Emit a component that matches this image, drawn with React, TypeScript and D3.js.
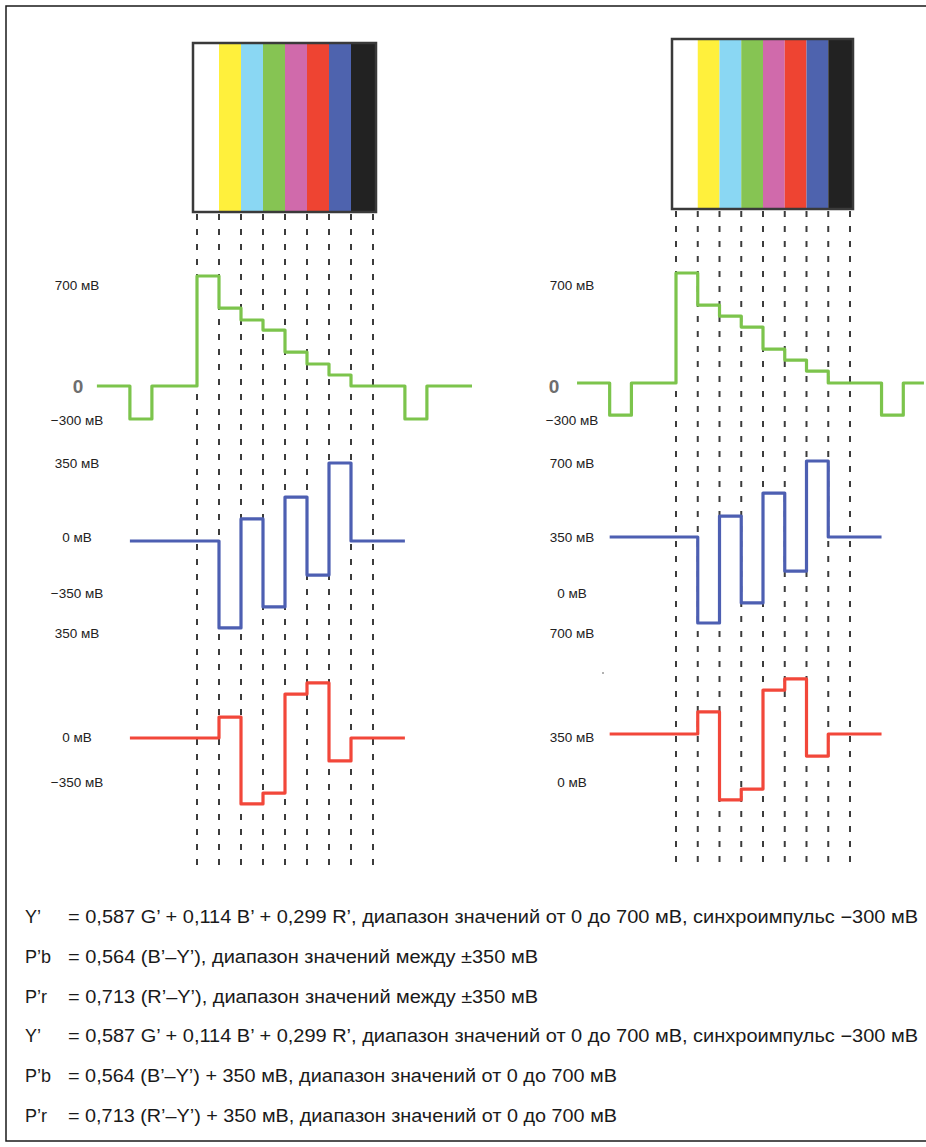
import React from "react";
import * as d3 from "d3";

// ---------- data ----------
const CATEGORIES = ["Белый", "Жёлтый", "Голубой", "Зелёный", "Пурпурный", "Красный", "Синий", "Чёрный"];
const BAR_COLORS = ["#ffffff", "#fff03c", "#8ad7f3", "#86c453", "#d06aab", "#ee4432", "#4e63ae", "#222222"];

// Y' levels per colour bar (mV, as drawn)
const Y_LEFT = [700, 496, 420, 356, 216, 140, 70, 0];
const Y_RIGHT = [700, 496, 426, 356, 216, 146, 76, 0];
const SYNC_LEFT = -210;
const SYNC_RIGHT = -205;

// colour-difference levels per bar (mV, as drawn)
const PB_LEFT = [0, -390, 99, -296, 197, -153, 350, 0];
const PR_LEFT = [0, 94, -296, -247, 197, 247, -103, 0];
const PB_RIGHT = [350, -36, 444, 54, 547, 197, 691, 350];
const PR_RIGHT = [350, 449, 54, 103, 547, 597, 251, 350];

// time positions (in bar widths) of the blanking/sync parts
const Y_START = -4.55;
const SYNC_ON = -3.05;
const SYNC_OFF = -2.05;
const SYNC2_ON = 9.45;
const SYNC2_OFF = 10.45;
const Y_END_LEFT = 12.5;
const Y_END_RIGHT = 11.4;
const C_START = -3.05;
const C_END = 9.45;

const LABELS_LEFT = ["700 мВ", "0", "−300 мВ", "350 мВ", "0 мВ", "−350 мВ", "350 мВ", "0 мВ", "−350 мВ"];
const LABELS_RIGHT = ["700 мВ", "0", "−300 мВ", "700 мВ", "350 мВ", "0 мВ", "700 мВ", "350 мВ", "0 мВ"];

const FORMULA_PREFIX = ["Y’", "P’b", "P’r", "Y’", "P’b", "P’r"];
const FORMULA_BODY = [
  "= 0,587 G’ + 0,114 B’ + 0,299 R’, диапазон значений от 0 до 700 мВ, синхроимпульс −300 мВ",
  "= 0,564 (B’–Y’), диапазон значений между ±350 мВ",
  "= 0,713 (R’–Y’), диапазон значений между ±350 мВ",
  "= 0,587 G’ + 0,114 B’ + 0,299 R’, диапазон значений от 0 до 700 мВ, синхроимпульс −300 мВ",
  "= 0,564 (B’–Y’) + 350 мВ, диапазон значений от 0 до 700 мВ",
  "= 0,713 (R’–Y’) + 350 мВ, диапазон значений от 0 до 700 мВ",
];

// ---------- layout ----------
const W = 926;
const H = 1147;
const LABEL_Y = [285, 386, 420, 463, 537, 593, 633, 737, 782];
const FORMULA_Y = [917, 957, 997, 1036, 1076, 1116];
const FORMULA_LEN = [850, 470, 470, 850, 549, 549];
const FONT = "'Liberation Sans Narrow', 'Liberation Sans', Arial, sans-serif";

const PANELS = [
  {
    x: d3.scaleLinear().domain([0, 8]).range([197, 373]),
    box: [43, 212],
    dash: [214, 870],
    labelX: 77,
    zeroX: 78,
    labels: LABELS_LEFT,
    yY: d3.scaleLinear().domain([0, 700]).range([386, 276]),
    yPb: d3.scaleLinear().domain([0, 350]).range([541, 463]),
    yPr: d3.scaleLinear().domain([0, 350]).range([738, 660]),
    Y: Y_LEFT, sync: SYNC_LEFT, yEnd: Y_END_LEFT,
    Pb: PB_LEFT, Pr: PR_LEFT, base: 0,
  },
  {
    x: d3.scaleLinear().domain([0, 8]).range([676, 850]),
    box: [39, 209],
    dash: [211, 862],
    labelX: 572,
    zeroX: 554,
    labels: LABELS_RIGHT,
    yY: d3.scaleLinear().domain([0, 700]).range([383, 273]),
    yPb: d3.scaleLinear().domain([350, 700]).range([537, 459]),
    yPr: d3.scaleLinear().domain([350, 700]).range([734, 656]),
    Y: Y_RIGHT, sync: SYNC_RIGHT, yEnd: Y_END_RIGHT,
    Pb: PB_RIGHT, Pr: PR_RIGHT, base: 350,
  },
];

type Pt = [number, number];

function lumaPoints(levels: number[], sync: number, end: number): Pt[] {
  const pts: Pt[] = [[Y_START, 0], [SYNC_ON, sync], [SYNC_OFF, 0]];
  levels.forEach((v, i) => pts.push([i, v]));
  pts.push([SYNC2_ON, sync], [SYNC2_OFF, 0], [end, 0]);
  return pts;
}

function chromaPoints(levels: number[], base: number): Pt[] {
  const pts: Pt[] = [[C_START, base]];
  levels.forEach((v, i) => pts.push([i, v]));
  pts.push([C_END, levels[levels.length - 1]]);
  return pts;
}

function Panel({ p }: { p: (typeof PANELS)[number] }) {
  const x = p.x;
  const mk = (y: d3.ScaleLinear<number, number>) =>
    d3.line<Pt>().x((d) => x(d[0])).y((d) => y(d[1])).curve(d3.curveStepAfter);
  const boxL = x(0) - 4;
  const boxR = x(8) + 3;
  const ticks = d3.range(0, 9);
  return (
    <g>
      {/* colour bars */}
      {CATEGORIES.map((c, i) => {
        const x0 = i === 0 ? boxL : x(i);
        const x1 = i === CATEGORIES.length - 1 ? boxR : x(i + 1);
        return <rect key={c} x={x0} y={p.box[0]} width={x1 - x0} height={p.box[1] - p.box[0]} fill={BAR_COLORS[i]} />;
      })}
      <rect x={boxL} y={p.box[0]} width={boxR - boxL} height={p.box[1] - p.box[0]} fill="none" stroke="#3a3a3a" strokeWidth={2.5} />
      {/* dashed guides */}
      {ticks.map((t) => (
        <line key={t} x1={x(t)} x2={x(t)} y1={p.dash[0]} y2={p.dash[1]} stroke="#3c3c3c" strokeWidth={2} strokeDasharray="6,9" />
      ))}
      {/* waveforms */}
      <path d={mk(p.yY)(lumaPoints(p.Y, p.sync, p.yEnd)) || ""} fill="none" stroke="#7cc44c" strokeWidth={3.2} strokeLinejoin="round" />
      <path d={mk(p.yPb)(chromaPoints(p.Pb, p.base)) || ""} fill="none" stroke="#4d5fb2" strokeWidth={3.2} strokeLinejoin="round" />
      <path d={mk(p.yPr)(chromaPoints(p.Pr, p.base)) || ""} fill="none" stroke="#f2473a" strokeWidth={3.2} strokeLinejoin="round" />
      {/* labels */}
      {p.labels.map((t, i) =>
        t === "0" ? (
          <text key={i} x={p.zeroX} y={LABEL_Y[i]} dy="0.35em" textAnchor="middle" fontFamily={FONT} fontWeight="bold" fontSize={19} fill="#6e6e6e">
            {t}
          </text>
        ) : (
          <text key={i} x={p.labelX} y={LABEL_Y[i]} dy="0.35em" textAnchor="middle" fontFamily={FONT} fontSize={13.5} fill="#222">
            {t}
          </text>
        )
      )}
    </g>
  );
}

export default function App() {
  return (
    <svg width={W} height={H} viewBox={`0 0 ${W} ${H}`} style={{ position: "absolute", left: 0, top: 0, background: "#fff" }}>
      <rect x={0} y={0} width={W} height={H} fill="#fff" />
      <path d={`M${W},6 H6 V1141 H${W}`} fill="none" stroke="#1a1a1a" strokeWidth={1.5} />
      {PANELS.map((p, i) => (
        <Panel key={i} p={p} />
      ))}
      <circle cx={603} cy={673} r={1} fill="#999" />
      {FORMULA_PREFIX.map((pre, i) => (
        <g key={i}>
          <text x={25} y={FORMULA_Y[i]} dy="0.35em" fontFamily={FONT} fontSize={18} fill="#1a1a1a">
            {pre}
          </text>
          <text x={68} y={FORMULA_Y[i]} dy="0.35em" fontFamily={FONT} fontSize={18} fill="#1a1a1a" textLength={FORMULA_LEN[i]} lengthAdjust="spacingAndGlyphs">
            {FORMULA_BODY[i]}
          </text>
        </g>
      ))}
    </svg>
  );
}
